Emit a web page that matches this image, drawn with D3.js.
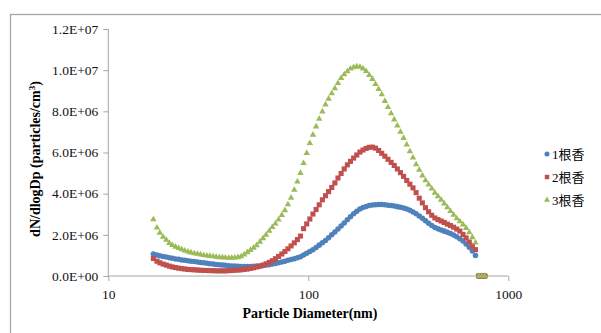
<!DOCTYPE html>
<html><head><meta charset="utf-8">
<script src="https://cdn.jsdelivr.net/npm/d3@7"></script>
<style>body{margin:0;background:#fff}svg{display:block}</style>
</head><body>
<svg id="c" width="601" height="333"></svg>
<script>
// Particle diameters (nm)
const diameters = [16.8,17.5,18.1,18.8,19.5,20.2,20.9,21.7,22.5,23.3,24.1,25.0,25.9,26.9,27.9,28.9,30.0,31.1,32.2,33.4,34.6,35.9,37.2,38.5,40.0,41.4,42.9,44.5,46.1,47.8,49.6,51.4,53.3,55.2,57.3,59.4,61.5,63.8,66.1,68.5,71.0,73.7,76.4,79.1,82.0,85.1,88.2,91.4,94.7,98.2,101.8,105.5,109.4,113.4,117.6,121.9,126.3,131.0,135.8,140.7,145.9,151.2,156.8,162.5,168.5,174.7,181.1,187.7,194.6,201.7,209.1,216.7,224.7,232.9,241.4,250.3,259.5,269.0,278.8,289.0,299.6,310.6,322.0,333.8,346.0,358.7,371.8,385.4,399.5,414.2,429.4,445.1,461.4,478.3,495.8,514.0,532.8,552.3,572.5,593.5,615.3,637.8,661.2,685.4,710.5,736.5,763.5];

// dN/dlogDp values in millions (particles/cm3)
const series1 = [1.07,1.02,0.98,0.95,0.92,0.89,0.86,0.83,0.81,0.78,0.76,0.74,0.72,0.70,0.68,0.66,0.64,0.62,0.60,0.58,0.56,0.55,0.53,0.52,0.50,0.49,0.48,0.47,0.46,0.46,0.46,0.46,0.47,0.48,0.49,0.51,0.53,0.55,0.58,0.61,0.64,0.68,0.72,0.76,0.80,0.84,0.89,0.94,1.02,1.10,1.19,1.28,1.38,1.50,1.62,1.73,1.86,2.00,2.14,2.28,2.43,2.58,2.73,2.88,3.02,3.14,3.25,3.33,3.38,3.42,3.45,3.46,3.47,3.47,3.46,3.44,3.42,3.40,3.37,3.34,3.30,3.25,3.19,3.11,3.02,2.92,2.80,2.68,2.56,2.45,2.36,2.29,2.23,2.18,2.12,2.06,1.99,1.91,1.81,1.70,1.56,1.40,1.22,1.00,0,0,0];
const series2 = [0.85,0.72,0.64,0.58,0.53,0.48,0.44,0.41,0.38,0.36,0.34,0.32,0.31,0.30,0.29,0.28,0.27,0.27,0.26,0.26,0.25,0.25,0.25,0.25,0.26,0.27,0.28,0.29,0.30,0.32,0.34,0.37,0.40,0.44,0.48,0.53,0.59,0.66,0.74,0.84,0.95,1.07,1.19,1.32,1.46,1.61,1.77,1.94,2.30,2.53,2.77,3.01,3.23,3.46,3.70,3.90,4.10,4.30,4.52,4.76,4.98,5.20,5.40,5.57,5.73,5.88,6.02,6.12,6.20,6.25,6.26,6.21,6.10,5.96,5.82,5.67,5.52,5.37,5.20,5.02,4.84,4.64,4.46,4.28,4.05,3.78,3.55,3.32,3.12,2.95,2.82,2.74,2.67,2.60,2.52,2.45,2.37,2.28,2.18,2.02,1.85,1.65,1.47,1.28,0,0,0];
const series3 = [2.75,2.35,2.10,1.90,1.75,1.60,1.50,1.42,1.35,1.29,1.23,1.18,1.14,1.10,1.07,1.04,1.01,0.99,0.97,0.95,0.93,0.91,0.90,0.89,0.88,0.88,0.89,0.91,0.95,1.04,1.15,1.26,1.37,1.49,1.66,1.83,2.00,2.19,2.37,2.54,2.74,2.96,3.19,3.48,3.80,4.18,4.58,5.00,5.48,5.97,6.45,6.86,7.26,7.63,7.99,8.33,8.61,8.87,9.12,9.37,9.61,9.79,9.94,10.07,10.14,10.18,10.16,10.08,9.95,9.76,9.57,9.32,9.08,8.82,8.50,8.20,7.90,7.60,7.30,7.00,6.70,6.38,6.05,5.75,5.42,5.15,4.88,4.64,4.44,4.24,4.04,3.87,3.70,3.52,3.33,3.15,2.97,2.80,2.65,2.50,2.33,2.12,1.88,1.62,0,0,0];

const seriesNames = ["1根香","2根香","3根香"];
const yTicks = [0,2e6,4e6,6e6,8e6,10e6,12e6];
const yTickLabels = ["0.0E+00","2.0E+06","4.0E+06","6.0E+06","8.0E+06","1.0E+07","1.2E+07"];
const xTicks = [10,100,1000];
const xTickLabels = ["10","100","1000"];

const svg = d3.select("#c");
const serif = "'Liberation Serif', 'Times New Roman', serif";
const cjk = "'Liberation Serif', 'Noto Sans CJK TC', 'Noto Sans CJK SC', serif";

svg.append("rect").attr("x",10.5).attr("y",14.5).attr("width",620).attr("height",340)
  .attr("fill","none").attr("stroke","#a6a6a6").attr("stroke-width",1.3);

const x = d3.scaleLog().domain([10,1000]).range([108.3,508.3]);
const y = d3.scaleLinear().domain([0,12e6]).range([276,29]);

const axisColor = "#a6a6a6";
// Y axis
const yAxis = svg.append("g").attr("transform","translate(108.3,0)")
  .call(d3.axisLeft(y).tickValues(yTicks).tickSize(5).tickPadding(5)
    .tickFormat((d,i)=>yTickLabels[i]));
// X axis
const xAxis = svg.append("g").attr("transform","translate(0,276)")
  .call(d3.axisBottom(x).tickValues(xTicks).tickSize(5).tickPadding(8)
    .tickFormat((d,i)=>xTickLabels[i]));
[yAxis,xAxis].forEach(g=>{
  g.attr("font-family",null).attr("font-size",null);
  g.select(".domain").attr("stroke",axisColor).attr("d", g===yAxis ? "M0,276V29" : "M108.3,0H508.3");
  g.selectAll(".tick line").attr("stroke",axisColor);
  g.selectAll("text").style("font-family",serif).style("font-size","13.5px").attr("fill","#111");
});

// Axis titles
svg.append("text").attr("x",310).attr("y",318).attr("text-anchor","middle")
  .style("font-family",serif).attr("font-weight","bold").style("font-size","14px")
  .text("Particle Diameter(nm)");
const yt = svg.append("text").attr("transform","translate(40,159) rotate(-90)")
  .attr("text-anchor","middle").style("font-family",serif).attr("font-weight","bold").style("font-size","14px");
yt.append("tspan").text("dN/dlogDp (particles/cm");
yt.append("tspan").attr("dy",-5).style("font-size","9px").text("3");
yt.append("tspan").attr("dy",5).text(")");

const colors = ["#4F81BD","#C0504D","#9BBB59"];
const shapes = [d3.symbolCircle, d3.symbolSquare, d3.symbolTriangle];
const sizes = [24, 26, 18];
const all = [series1, series2, series3];

all.forEach((s,k)=>{
  const pts = diameters.map((d,i)=>({d, v:s[i]*1e6}));
  svg.append("g").selectAll("path").data(pts).join("path")
    .attr("transform",p=>`translate(${x(p.d)},${y(p.v)})`)
    .attr("d", d3.symbol().type(shapes[k]).size(sizes[k]))
    .attr("fill",colors[k]);
});

// Legend
const lg = svg.append("g");
seriesNames.forEach((n,k)=>{
  const yy = 154 + k*23;
  lg.append("path").attr("transform",`translate(547,${yy})`)
    .attr("d", d3.symbol().type(shapes[k]).size(k===2?16:20)).attr("fill",colors[k]);
  lg.append("text").attr("x",552).attr("y",yy+4.5).style("font-family",cjk)
    .style("font-size","13px").attr("fill","#000").text(n);
});
</script>
</body></html>
